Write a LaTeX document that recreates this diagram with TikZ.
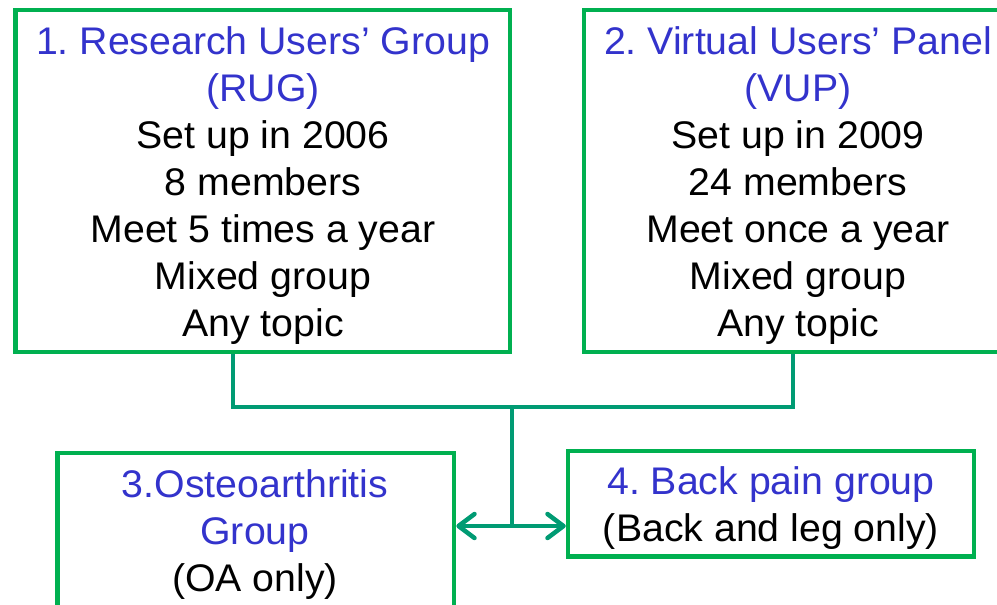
\documentclass[tikz,border=0pt]{standalone}
\usepackage{fontspec}
\setmainfont{Liberation Sans}[FakeStretch=1.02]
\usetikzlibrary{arrows.meta}

\definecolor{boxgreen}{RGB}{0,176,80}
\definecolor{linkteal}{RGB}{0,155,115}
\definecolor{titleblue}{RGB}{51,51,204}

\tikzset{
  groupbox/.style={draw=boxgreen, line width=4.5pt, fill=none, inner sep=0pt},
  boxtext/.style={anchor=north, inner sep=0pt, align=center,
                  font=\fontsize{38.5}{47}\selectfont\frenchspacing},
  conn/.style={draw=linkteal, line width=4.5pt},
  barb/.tip={Straight Barb[length=16pt, width=24pt, line cap=round, line join=round]}
}

\begin{document}
\begin{tikzpicture}[x=1pt, y=-1pt]
  \useasboundingbox (0,0) rectangle (997,605);
  \clip (0,0) rectangle (997,605);
  \fill[white] (0,0) rectangle (997,605);

  % the four group boxes
  \node[groupbox, minimum width=494.5pt, minimum height=342pt] (rug)  at (262.75,181) {};
  \node[groupbox, minimum width=426pt,   minimum height=342pt] (vup)  at (797,181)    {};
  \node[groupbox, minimum width=396.5pt, minimum height=170pt] (oa)   at (255.75,538) {};
  \node[groupbox, minimum width=406pt,   minimum height=105.5pt] (back) at (771,503.75) {};

  % box contents (first baseline = node top + strut height)
  \node[boxtext] (rugtext) at (263,21.1)
    {\strut\textcolor{titleblue}{1. Research Users’ Group}\\
     \textcolor{titleblue}{(RUG)}\\
     Set up in 2006\\ 8 members\\ Meet 5 times a year\\ Mixed group\\ Any topic};
  \node[boxtext] (vuptext) at (798,21.1)
    {\strut\textcolor{titleblue}{2. Virtual Users’ Panel}\\
     \textcolor{titleblue}{(VUP)}\\
     Set up in 2009\\ 24 members\\ Meet once a year\\ Mixed group\\ Any topic};
  \node[boxtext] (oatext) at (255,464.1)
    {\strut\textcolor{titleblue}{3.Osteoarthritis}\\
     \textcolor{titleblue}{Group}\\
     (OA only)};
  \node[boxtext] (backtext) at (771,461.1)
    {\strut\textcolor{titleblue}{4. Back pain group}\\
     (Back and leg only)};

  % connectors
  \coordinate (hub)   at (512,407);
  \coordinate (split) at (512,526);
  \draw[conn] ([xshift=-29.75pt]rug.south) |- (hub) -| ([xshift=-4pt]vup.south);
  \draw[conn] (hub) -- (split);
  \draw[conn, {barb}-{barb}] (oa.east |- split) -- (back.west |- split);
\end{tikzpicture}
\end{document}
